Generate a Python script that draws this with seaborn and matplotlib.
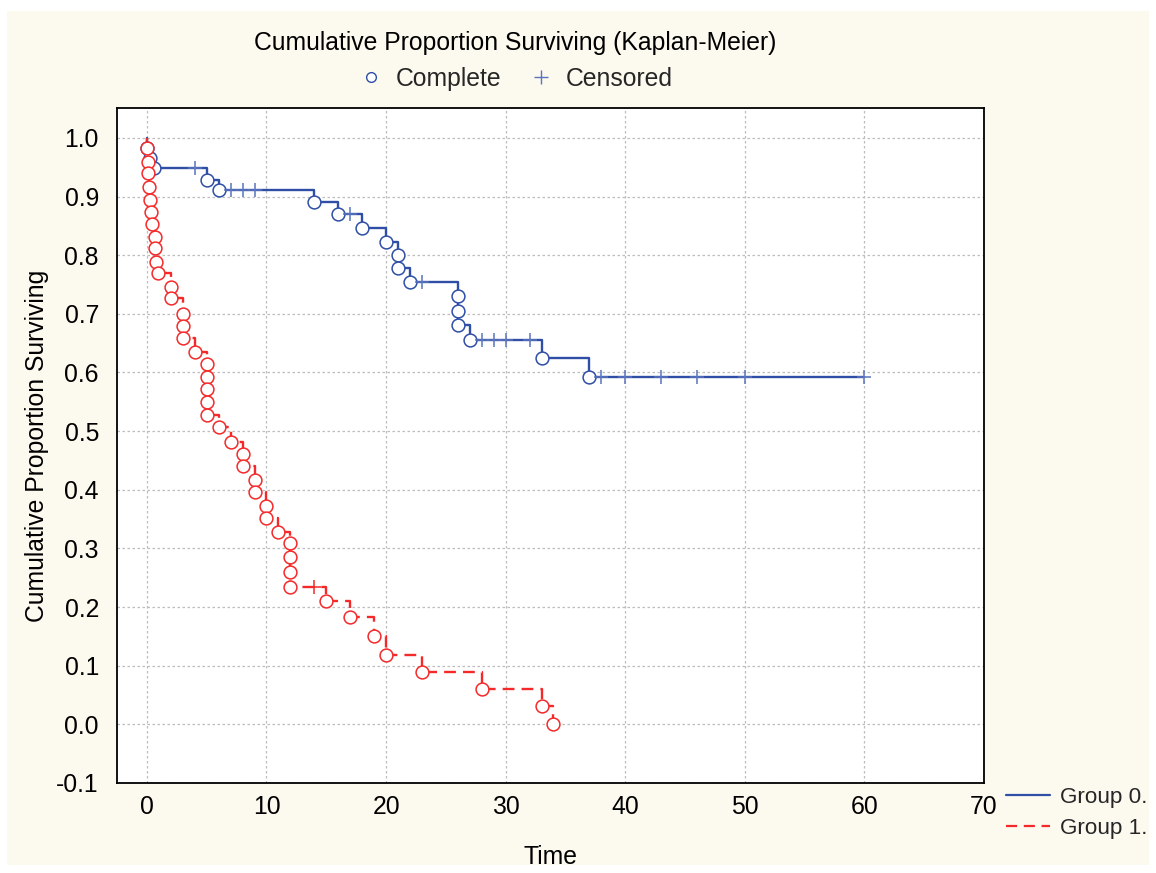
import numpy as np
import pandas as pd
import matplotlib
matplotlib.use("Agg")
import matplotlib.pyplot as plt
from matplotlib.lines import Line2D
from matplotlib.patches import Rectangle
import seaborn as sns

# ---------------- data ----------------
blue_event_t = [0.05, 0.3, 0.6, 5, 6, 14, 16, 18, 20, 21, 21, 22, 26, 26, 26, 27, 33, 37]
blue_event_s = [0.983, 0.966, 0.949, 0.929, 0.911, 0.890, 0.871, 0.847, 0.823, 0.800,
                0.778, 0.755, 0.730, 0.704, 0.681, 0.656, 0.625, 0.593]
blue_cens_t = [4, 7, 8, 9, 17, 23, 28, 29, 30, 32, 38, 40, 43, 46, 50, 60]
blue_cens_s = [0.949, 0.911, 0.911, 0.911, 0.871, 0.755, 0.656, 0.656, 0.656, 0.656,
               0.593, 0.593, 0.593, 0.593, 0.593, 0.593]

red_event_t = [0.05, 0.1, 0.1, 0.2, 0.25, 0.35, 0.4, 0.65, 0.7, 0.8, 0.9,
               2, 2, 3, 3, 3, 4, 5, 5, 5, 5, 5, 6, 7, 8, 8, 9, 9, 10, 10, 11,
               12, 12, 12, 12, 15, 17, 19, 20, 23, 28, 33, 34]
red_event_s = [0.983, 0.959, 0.940, 0.916, 0.894, 0.874, 0.853, 0.831, 0.812, 0.788,
               0.770, 0.746, 0.727, 0.700, 0.679, 0.659, 0.635, 0.614, 0.592, 0.572,
               0.549, 0.527, 0.507, 0.481, 0.461, 0.440, 0.416, 0.396, 0.372, 0.352,
               0.328, 0.309, 0.285, 0.259, 0.235, 0.210, 0.183, 0.150, 0.119, 0.089,
               0.061, 0.031, 0.000]
red_cens_t = [14]
red_cens_s = [0.235]

group_labels = ["Group 0.", "Group 1."]
x_ticks = [0, 10, 20, 30, 40, 50, 60, 70]
y_ticks = [-0.1, 0.0, 0.1, 0.2, 0.3, 0.4, 0.5, 0.6, 0.7, 0.8, 0.9, 1.0]

BLUE = "#2f4ea5"
BLUE_LIGHT = "#5a74bd"
RED = "#f42a2a"
FONT = ["Liberation Sans", "DejaVu Sans"]
FS = 17.8


def step_frame(ev_t, ev_s, ce_t, ce_s):
    rows = [(0.0, 1.0, 0)]
    rows += [(t, s, 1) for t, s in zip(ev_t, ev_s)]
    rows += [(t, s, 2) for t, s in zip(ce_t, ce_s)]
    df = pd.DataFrame(rows, columns=["t", "s", "kind"])
    df["order"] = range(len(df))
    df = df.sort_values(["t", "order"], kind="stable").reset_index(drop=True)
    return df


sns.set_theme(style="white")
plt.rcParams["font.family"] = FONT

fig = plt.figure(figsize=(11.56, 8.73), dpi=100)
fig.patch.set_facecolor("white")
fig.patches.append(Rectangle((7 / 1156, 8 / 873), 1 - 14 / 1156, 1 - 19 / 873,
                             transform=fig.transFigure, facecolor="#fcf9ef",
                             edgecolor="none", zorder=-10))

ax = fig.add_axes([117 / 1156, 1 - 783 / 873, (984 - 117) / 1156, (783 - 108) / 873])
ax.set_facecolor("white")

groups = [
    (blue_event_t, blue_event_s, blue_cens_t, blue_cens_s, BLUE, BLUE_LIGHT, "-"),
    (red_event_t, red_event_s, red_cens_t, red_cens_s, RED, RED, (0, (5, 3))),
]

for ev_t, ev_s, ce_t, ce_s, col, ccol, ls in groups:
    df = step_frame(ev_t, ev_s, ce_t, ce_s)
    sns.lineplot(data=df, x="t", y="s", ax=ax, estimator=None, sort=False,
                 drawstyle="steps-post", color=col, linewidth=1.7, linestyle=ls,
                 zorder=3)
    ev = pd.DataFrame({"t": ev_t, "s": ev_s})
    sns.scatterplot(data=ev, x="t", y="s", ax=ax, marker="o", s=85,
                    color="white", edgecolor=col, linewidth=1.1, zorder=4)
    ce = pd.DataFrame({"t": ce_t, "s": ce_s})
    sns.scatterplot(data=ce, x="t", y="s", ax=ax, marker="+", s=110,
                    color=ccol, linewidth=1.1, zorder=4)

ax.set_xlim(-2.5, 70)
ax.set_ylim(-0.1, 1.051)
ax.set_xticks(x_ticks)
ax.set_yticks(y_ticks)
ax.set_xticklabels([str(v) for v in x_ticks])
ax.set_yticklabels([f"{v:.1f}" for v in y_ticks])
ax.grid(True, color="#bdbdbd", linestyle=(0, (2, 2)), linewidth=0.9)
ax.set_axisbelow(True)
for sp in ax.spines.values():
    sp.set_visible(True)
    sp.set_color("black")
    sp.set_linewidth(1.3)
ax.tick_params(axis="y", labelsize=FS, length=0, pad=13, colors="black")
ax.tick_params(axis="x", labelsize=FS, length=0, pad=8.5, colors="black")
ax.set_xlabel("Time", fontsize=FS, labelpad=18.5, color="black")
ax.set_ylabel("Cumulative Proportion Surviving", fontsize=FS, labelpad=5, color="black")

fig.text(515 / 1156, 1 - 43 / 873, "Cumulative Proportion Surviving (Kaplan-Meier)",
         ha="center", va="center", fontsize=FS, color="black")

top_handles = [
    Line2D([], [], marker="o", linestyle="none", markerfacecolor="white",
           markeredgecolor=BLUE, markersize=7, markeredgewidth=1.0),
    Line2D([], [], marker="+", linestyle="none", color=BLUE_LIGHT,
           markersize=10, markeredgewidth=1.0),
]
fig.legend(top_handles, ["Complete", "Censored"], loc="center",
           bbox_to_anchor=(516 / 1156, 1 - 79 / 873), ncol=2, frameon=False,
           fontsize=FS, handlelength=1.0, handletextpad=0.5, columnspacing=1.1)

grp_handles = [
    Line2D([], [], color=BLUE, linewidth=1.6),
    Line2D([], [], color=RED, linewidth=1.6, linestyle=(0, (5, 3))),
]
fig.legend(grp_handles, group_labels, loc="upper left",
           bbox_to_anchor=(997 / 1156, 1 - 778 / 873), frameon=False,
           fontsize=16.2, handlelength=1.95, handletextpad=0.45, labelspacing=0.45,
           borderaxespad=0.0)

fig.savefig("out.png", dpi=100, facecolor=fig.get_facecolor())
